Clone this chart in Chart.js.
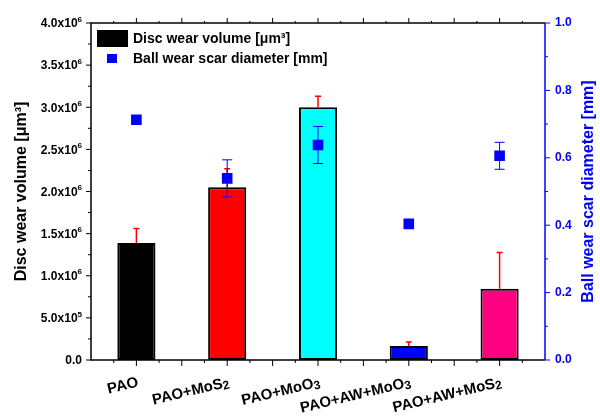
<!DOCTYPE html>
<html>
<head>
<meta charset="utf-8">
<script src="https://cdn.jsdelivr.net/npm/chart.js@4"></script>
<style>
  html, body { margin: 0; padding: 0; background: #fff; }
  #wrap { width: 600px; height: 417px; }
</style>
</head>
<body>
<div id="wrap"><canvas id="c"></canvas></div>
<script>
// data ('_' = subscript, '^' = superscript)
const categories   = ['PAO', 'PAO+MoS_2', 'PAO+MoO_3', 'PAO+AW+MoO_3', 'PAO+AW+MoS_2'];
const discWear     = [1.39e6, 2.05e6, 3.0e6, 0.165e6, 0.845e6];
const discWearErr  = [0.17e6, 0.22e6, 0.13e6, 0.05e6, 0.43e6];
const ballScar     = [0.713, 0.539, 0.638, 0.404, 0.606];
const ballScarErr  = [0.008, 0.055, 0.055, 0.008, 0.04];
const barColors    = ['#000000', '#ff0000', '#00ffff', '#0000ff', '#ff0080'];
const leftTickLabels  = ['0.0', '5.0x10^5', '1.0x10^6', '1.5x10^6', '2.0x10^6', '2.5x10^6', '3.0x10^6', '3.5x10^6', '4.0x10^6'];
const rightTickLabels = ['0.0', '0.2', '0.4', '0.6', '0.8', '1.0'];

const FONT = '"Liberation Sans", Arial, sans-serif';
const BLUE = '#0000ff';

// split 'abc^6' / 'abc_2' into text runs
function parts(s) {
  const m = s.match(/^(.*?)([\^_])(.+)$/);
  if (!m) return [{ t: s, k: '' }];
  return [{ t: m[1], k: '' }, { t: m[3], k: m[2] }];
}

// draws runs so that the whole string ends at x (right aligned)
function drawRich(ctx, s, x, y, size, subSize) {
  const runs = parts(s);
  const widths = runs.map(r => {
    ctx.font = 'bold ' + (r.k ? subSize : size) + 'px ' + FONT;
    return ctx.measureText(r.t).width;
  });
  let px = x - widths.reduce((p, w) => p + w, 0);
  runs.forEach((r, i) => {
    ctx.font = 'bold ' + (r.k ? subSize : size) + 'px ' + FONT;
    const dy = r.k === '^' ? -size * 0.38 : r.k === '_' ? size * 0.28 : 0;
    ctx.fillText(r.t, px, y + dy);
    px += widths[i];
  });
}

// frame, ticks, labels, error bars, legend, right title
const decor = {
  id: 'decor',
  afterDatasetDraw(chart, args) {
    if (args.index !== 0) return;
    const ctx = chart.ctx, x = chart.scales.x, y = chart.scales.y;
    ctx.save();
    ctx.strokeStyle = '#ff0000';
    ctx.lineWidth = 1.5;
    discWear.forEach((v, i) => {
      const px = x.getPixelForValue(i);
      const y0 = y.getPixelForValue(v), y1 = y.getPixelForValue(v + discWearErr[i]);
      ctx.beginPath();
      ctx.moveTo(px, y0); ctx.lineTo(px, y1);
      ctx.moveTo(px - 3, y1); ctx.lineTo(px + 3, y1);
      ctx.stroke();
    });
    ctx.restore();
  },
  beforeDatasetDraw(chart, args) {
    if (args.index !== 1) return;
    const ctx = chart.ctx, x = chart.scales.x, y = chart.scales.y1;
    ctx.save();
    ctx.strokeStyle = BLUE;
    ctx.lineWidth = 1;
    ballScar.forEach((v, i) => {
      const px = x.getPixelForValue(i);
      const lo = y.getPixelForValue(v - ballScarErr[i]), hi = y.getPixelForValue(v + ballScarErr[i]);
      ctx.beginPath();
      ctx.moveTo(px, lo); ctx.lineTo(px, hi);
      ctx.moveTo(px - 5, lo); ctx.lineTo(px + 5, lo);
      ctx.moveTo(px - 5, hi); ctx.lineTo(px + 5, hi);
      ctx.stroke();
    });
    ctx.restore();
  },
  afterDraw(chart) {
    const ctx = chart.ctx, a = chart.chartArea;
    const x = chart.scales.x, y = chart.scales.y, y1 = chart.scales.y1;
    ctx.save();
    ctx.lineWidth = 1.5;
    // black frame: left, top, bottom
    ctx.strokeStyle = '#000';
    ctx.beginPath();
    ctx.moveTo(a.right, a.top); ctx.lineTo(a.left, a.top);
    ctx.lineTo(a.left, a.bottom); ctx.lineTo(a.right, a.bottom);
    ctx.stroke();
    // left ticks
    ctx.lineWidth = 1;
    ctx.beginPath();
    for (let v = 0; v <= 4e6 + 1; v += 0.25e6) {
      const py = y.getPixelForValue(v);
      const major = Math.round(v / 0.25e6) % 2 === 0;
      ctx.moveTo(a.left, py); ctx.lineTo(a.left - (major ? 5 : 3), py);
    }
    // bottom + top ticks (centres, boundaries major; quarters minor)
    const n = categories.length;
    const step = (a.right - a.left) / n;
    for (let i = 0; i < n; i++) {
      const c = x.getPixelForValue(i);
      const marks = [[c, 6], [c - step / 4, 3], [c + step / 4, 3], [c + step / 2, 6]];
      marks.forEach(([px, len]) => {
        if (px > a.right - 1) return;
        ctx.moveTo(px, a.bottom); ctx.lineTo(px, a.bottom + len);
        ctx.moveTo(px, a.top); ctx.lineTo(px, a.top - len + 1);
      });
    }
    ctx.stroke();

    // left tick labels with superscript exponents
    ctx.fillStyle = '#000';
    ctx.textAlign = 'left';
    ctx.textBaseline = 'middle';
    y.ticks.forEach((t, i) => {
      drawRich(ctx, leftTickLabels[i], a.left - 9, y.getPixelForValue(t.value) + 1, 12, 8);
    });

    // category labels, rotated, with subscripts
    ctx.textBaseline = 'top';
    categories.forEach((c, i) => {
      ctx.save();
      ctx.translate(x.getPixelForValue(i), a.bottom + 15);
      ctx.rotate(-13.5 * Math.PI / 180);
      drawRich(ctx, c, 0, 0, 15, 12);
      ctx.restore();
    });

    // right axis in blue
    ctx.strokeStyle = BLUE;
    ctx.lineWidth = 1.5;
    ctx.beginPath();
    ctx.moveTo(a.right, a.top); ctx.lineTo(a.right, a.bottom);
    ctx.stroke();
    ctx.lineWidth = 1;
    ctx.beginPath();
    for (let k = 0; k <= 10; k++) {
      const py = y1.getPixelForValue(k / 10);
      ctx.moveTo(a.right, py); ctx.lineTo(a.right + (k % 2 === 0 ? 5 : 3), py);
    }
    ctx.stroke();
    // right title, reading bottom to top
    ctx.fillStyle = BLUE;
    ctx.font = 'bold 16px ' + FONT;
    ctx.textAlign = 'center';
    ctx.textBaseline = 'middle';
    ctx.translate(589, (a.top + a.bottom) / 2);
    ctx.rotate(-Math.PI / 2);
    ctx.fillText('Ball wear scar diameter [mm]', 0, 0);
    ctx.restore();

    // legend inside plot
    const ds = chart.data.datasets;
    ctx.save();
    ctx.fillStyle = '#000';
    ctx.fillRect(a.left + 6, a.top + 7, 31, 17);
    ctx.fillStyle = BLUE;
    ctx.fillRect(a.left + 16, a.top + 31, 10, 9);
    ctx.fillStyle = '#000';
    ctx.font = 'bold 14px ' + FONT;
    ctx.textAlign = 'left';
    ctx.textBaseline = 'middle';
    ctx.fillText(ds[0].label, a.left + 42, a.top + 16);
    ctx.fillText(ds[1].label, a.left + 42, a.top + 36);
    ctx.restore();
  }
};

new Chart(document.getElementById('c'), {
  type: 'bar',
  data: {
    labels: categories,
    datasets: [
      {
        label: 'Disc wear volume [μm³]',
        data: discWear,
        backgroundColor: barColors,
        borderColor: '#000',
        borderWidth: 2,
        borderSkipped: false,
        barPercentage: 0.42,
        categoryPercentage: 1,
        yAxisID: 'y',
        order: 1
      },
      {
        type: 'line',
        label: 'Ball wear scar diameter [mm]',
        data: ballScar,
        showLine: false,
        pointStyle: 'rect',
        pointRadius: 7.5,
        pointBackgroundColor: BLUE,
        pointBorderColor: BLUE,
        pointBorderWidth: 0,
        yAxisID: 'y1',
        order: 0
      }
    ]
  },
  options: {
    responsive: true,
    maintainAspectRatio: false,
    animation: false,
    layout: { padding: { top: 23, left: 0, right: 0, bottom: 0 } },
    plugins: { legend: { display: false }, tooltip: { enabled: false } },
    scales: {
      x: {
        grid: { display: false, drawTicks: false },
        border: { display: false },
        ticks: { display: false },
        afterFit: s => { s.height = 57; }
      },
      y: {
        position: 'left',
        min: 0, max: 4e6,
        grid: { display: false, drawTicks: false },
        border: { display: false },
        ticks: { stepSize: 0.5e6, display: false },
        title: {
          display: true, text: 'Disc wear volume [μm³]', color: '#000',
          font: { family: FONT, size: 16, weight: 'bold' }, padding: { top: 12, bottom: 0 }
        },
        afterFit: s => { s.width = 91; }
      },
      y1: {
        position: 'right',
        min: 0, max: 1,
        grid: { display: false, drawTicks: false },
        border: { display: false },
        ticks: {
          stepSize: 0.2, color: BLUE, padding: 10,
          font: { family: FONT, size: 12, weight: 'bold' },
          callback: (v, i) => rightTickLabels[i]
        },
        afterFit: s => { s.width = 55; }
      }
    }
  },
  plugins: [decor]
});
</script>
</body>
</html>
